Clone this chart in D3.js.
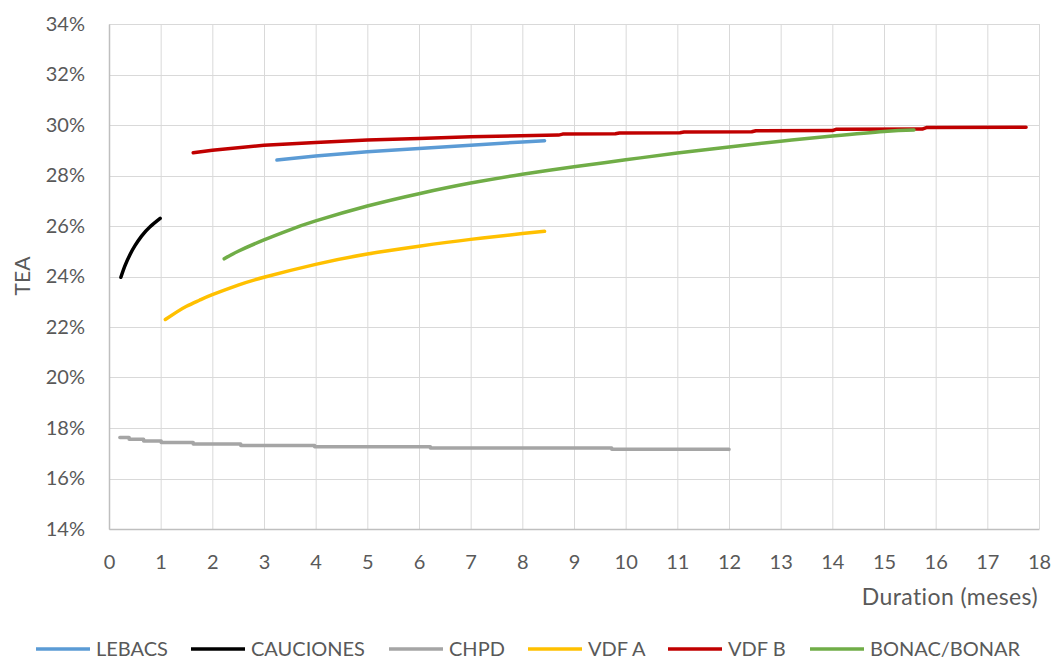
<!DOCTYPE html>
<html><head><meta charset="utf-8">
<script src="https://cdn.jsdelivr.net/npm/d3@7"></script>
<style>
body{margin:0;background:#fff;}
text{font-family:Lato, "Open Sans", sans-serif;fill:#595959;}
</style></head>
<body><svg id="c" width="1054" height="660"></svg>
<script>
// ---- data ----
const seriesNames = ["LEBACS","CAUCIONES","CHPD","VDF A","VDF B","BONAC/BONAR"];
const seriesColors = ["#5B9BD5","#000000","#A5A5A5","#FFC000","#C00000","#70AD47"];
const lebacs = [[3.25,28.61],[4,28.77],[5,28.94],[6,29.07],[7,29.2],[8,29.33],[8.43,29.38]];
const cauciones = [[0.23,23.97],[0.31,24.43],[0.41,24.88],[0.5,25.21],[0.63,25.6],[0.79,25.96],[0.99,26.3]];
const chpd = [[0.21,17.62],[0.39,17.55],[0.67,17.49],[1.01,17.43],[1.63,17.37],[2.55,17.31],[3.98,17.26],[6.22,17.21],[9.73,17.16],[12.0,17.15]];
const vdfA = [[1.09,22.3],[1.3,22.58],[1.5,22.82],[1.75,23.06],[2,23.28],[2.5,23.66],[3,23.97],[4,24.48],[5,24.89],[6,25.2],[7,25.47],[8,25.7],[8.43,25.79]];
const vdfB = [[1.63,28.9],[2,29.0],[3,29.2],[4,29.31],[5,29.41],[6,29.47],[7,29.53],[8.7,29.6],[8.78,29.64],[9.8,29.65],[9.88,29.68],[11.05,29.69],[11.13,29.72],[12.44,29.73],[12.52,29.77],[14.0,29.78],[14.07,29.83],[15.74,29.84],[15.82,29.9],[17.75,29.91]];
const bonar = [[2.23,24.7],[2.5,25.0],[3,25.45],[3.5,25.85],[4,26.2],[5,26.79],[6,27.28],[7,27.7],[8,28.05],[9,28.35],[10,28.62],[11,28.89],[12,29.13],[13,29.36],[14,29.56],[15,29.74],[15.58,29.8]];
const xTicks = d3.range(0,19,1);
const yTicks = [14,16,18,20,22,24,26,28,30,32,34];
const xLabel = "Duration (meses)";
const yLabel = "TEA";

const seriesData = [lebacs,cauciones,chpd,vdfA,vdfB,bonar];
const seriesCurves = [d3.curveLinear,d3.curveNatural,d3.curveStepAfter,d3.curveNatural,d3.curveLinear,d3.curveNatural];

// ---- layout ----
const svg = d3.select("#c");
const L=109,R=1039,T=24,B=529;
const x = d3.scaleLinear().domain([0,18]).range([L,R]);
const y = d3.scaleLinear().domain([14,34]).range([B,T]);
const grid = "#D9D9D9";

svg.append("g").selectAll("line").data(xTicks).join("line")
  .attr("x1",d=>x(d)+0.5).attr("x2",d=>x(d)+0.5).attr("y1",T).attr("y2",B)
  .attr("stroke",grid).attr("stroke-width",1);
svg.append("g").selectAll("line").data(yTicks).join("line")
  .attr("x1",L).attr("x2",R).attr("y1",d=>Math.round(y(d))+0.5).attr("y2",d=>Math.round(y(d))+0.5)
  .attr("stroke",grid).attr("stroke-width",1);

const xAxis = svg.append("g").attr("transform",`translate(0,${B})`)
  .call(d3.axisBottom(x).tickValues(xTicks).tickSize(0).tickPadding(26).tickFormat(d3.format("d")));
xAxis.select(".domain").attr("stroke","#BFBFBF").attr("stroke-width",1.5);
xAxis.selectAll("text").style("font-size","20px").style("fill","#595959");

const yAxis = svg.append("g").attr("transform",`translate(${L},0)`)
  .call(d3.axisLeft(y).tickValues(yTicks).tickSize(0).tickPadding(24).tickFormat(d=>d+"%"));
yAxis.select(".domain").attr("stroke","#BFBFBF").attr("stroke-width",1.5);
yAxis.selectAll("text").style("font-size","20px").style("fill","#595959");

svg.append("text").attr("x",1038).attr("y",605).attr("text-anchor","end")
  .style("font-size","23px").style("letter-spacing","0.4px").text(xLabel);
svg.append("text").attr("transform","translate(30,276) rotate(-90)").attr("text-anchor","middle")
  .style("font-size","21px").text(yLabel);

seriesData.forEach((data,i)=>{
  const line = d3.line().x(d=>x(d[0])).y(d=>y(d[1])).curve(seriesCurves[i]);
  svg.append("path").datum(data).attr("d",line).attr("fill","none")
    .attr("stroke",seriesColors[i]).attr("stroke-width",3.5).attr("stroke-linecap","round").attr("stroke-linejoin","round");
});

const legX = [36,191,389,528,668,810];
const lg = svg.append("g");
seriesNames.forEach((n,i)=>{
  lg.append("line").attr("x1",legX[i]).attr("x2",legX[i]+54).attr("y1",649).attr("y2",649)
    .attr("stroke",seriesColors[i]).attr("stroke-width",3.5);
  lg.append("text").attr("x",legX[i]+60).attr("y",656).style("font-size","20px").text(n);
});
</script></body></html>
